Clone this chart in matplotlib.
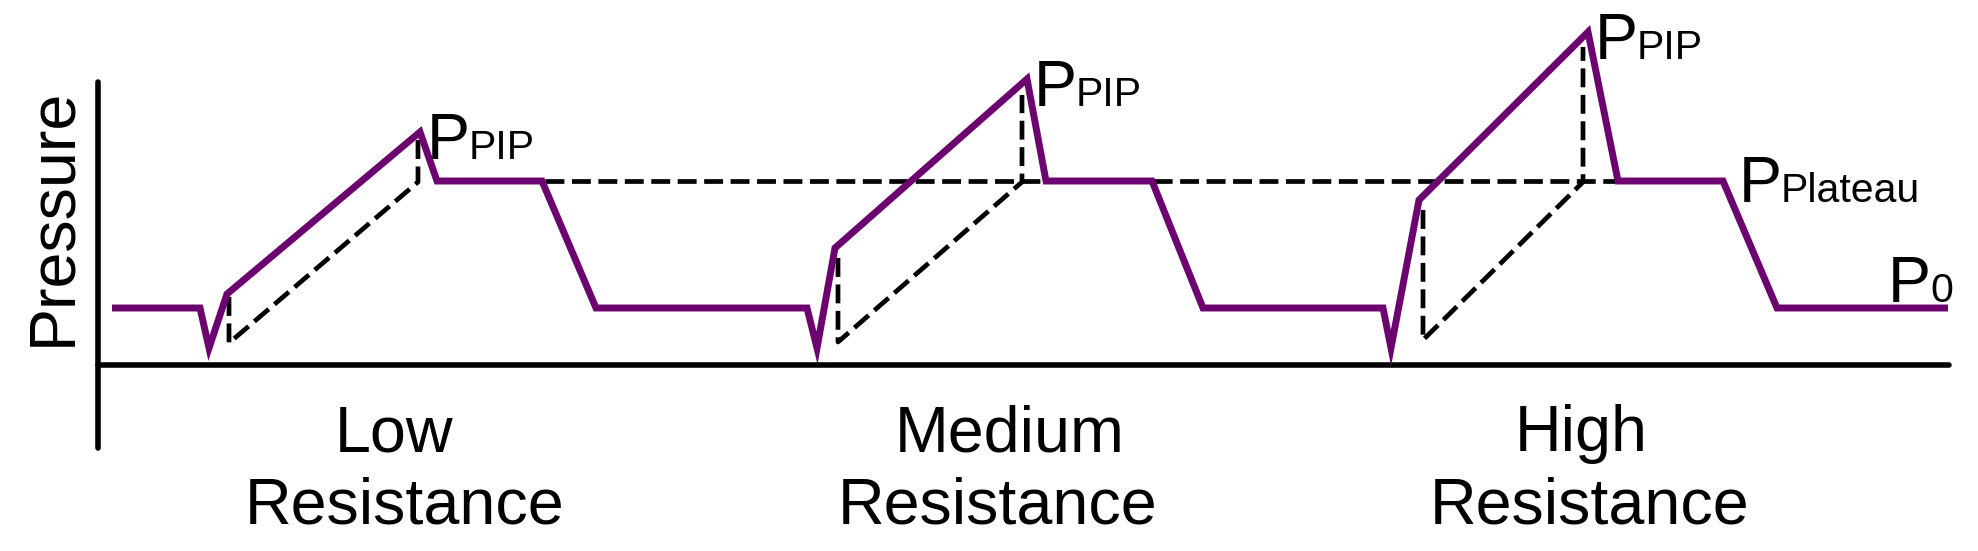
import matplotlib
matplotlib.use("Agg")
import matplotlib.pyplot as plt
import numpy as np

plt.rcParams['font.family'] = ['Liberation Sans', 'DejaVu Sans']

# ---------------- data (arbitrary time / pressure units) ----------------
time = [14, 102, 111, 129, 322, 339, 444, 498,
        709, 719, 737, 929, 948, 1054, 1105,
        1285, 1293, 1321, 1490, 1520, 1625, 1679, 1850]
pressure = [57, 57, 17, 71, 233, 184, 184, 57,
            57, 17, 117, 286, 184, 184, 57,
            57, 17, 165, 333, 184, 184, 57, 57]

# dashed decomposition (resistive / elastic parts) per resistance level
low_t = [131, 131, 320, 320]
low_p = [68, 22, 183, 230]
med_t = [740, 740, 924, 924]
med_p = [107, 23, 183, 270]
high_t = [1325, 1325, 1485, 1485]
high_p = [155, 25, 183, 318]
plateau_ref_t = [447, 1519]
plateau_ref_p = [184, 184]

group_line1 = ["Low", "Medium", "High"]
group_line2 = ["Resistance", "Resistance", "Resistance"]
ylabel = "Pressure"

# ---------------- layout ----------------
PURPLE = '#6C0470'
fig = plt.figure(figsize=(19.78, 5.51), dpi=100)
ax = fig.add_axes([0, 0, 1, 1])
ax.set_xlim(-98, 1880)
ax.set_ylim(-186, 365)
ax.set_facecolor('white')

for s in ['top', 'right']:
    ax.spines[s].set_visible(False)
ax.spines['left'].set_position(('data', 0))
ax.spines['bottom'].set_position(('data', 0))
ax.spines['left'].set_bounds(-83, 283)
ax.spines['bottom'].set_bounds(0, 1851)
for s in ['left', 'bottom']:
    ax.spines[s].set_linewidth(4.0)
    ax.spines[s].set_color('black')
    ax.spines[s].set_capstyle('round')
ax.set_xticks([])
ax.set_yticks([])

# dashed reference lines
dash_kw = dict(color='black', lw=3.4, linestyle=(0, (4.0, 1.6)), zorder=2)
ax.plot(plateau_ref_t, plateau_ref_p, **dash_kw)
for tt, pp in [(low_t, low_p), (med_t, med_p), (high_t, high_p)]:
    ax.plot(tt, pp, **dash_kw)

# waveform
ax.plot(time, pressure, color=PURPLE, lw=5.0, zorder=3,
        solid_joinstyle='miter', solid_capstyle='butt')

# ---------------- annotations ----------------
t_arr = np.array(time)
p_arr = np.array(pressure)
peaks = [i for i in range(1, len(p_arr) - 1)
         if p_arr[i] > p_arr[i - 1] and p_arr[i] > p_arr[i + 1]]

BIG, SMALL, SUB_DX = 46.5, 29.5, 42


def plabel(xy, sub, dx, dy):
    ax.annotate("P", xy=xy, xytext=(dx, dy), textcoords='offset pixels',
                fontsize=BIG, ha='left', va='baseline', color='black')
    ax.annotate(sub, xy=xy, xytext=(dx + SUB_DX, dy), textcoords='offset pixels',
                fontsize=SMALL, ha='left', va='baseline', color='black')


for i in peaks:
    plabel((t_arr[i], p_arr[i]), "PIP", 7, -27)

plabel((time[20], pressure[20]), "Plateau", 16, -21)
plabel((time[-1], pressure[-1]), "0", -60, 6)

ax.text(-45, 148, ylabel, rotation=90, fontsize=BIG, ha='center', va='center')

line1_x = [296, 912, 1483]
line2_x = [307, 900, 1492]
for l1, l2, x1, x2 in zip(group_line1, group_line2, line1_x, line2_x):
    ax.text(x1, -86, l1, fontsize=BIG, ha='center', va='baseline')
    ax.text(x2, -158, l2, fontsize=BIG, ha='center', va='baseline')

fig.savefig('out.png', dpi=100, facecolor='white')
